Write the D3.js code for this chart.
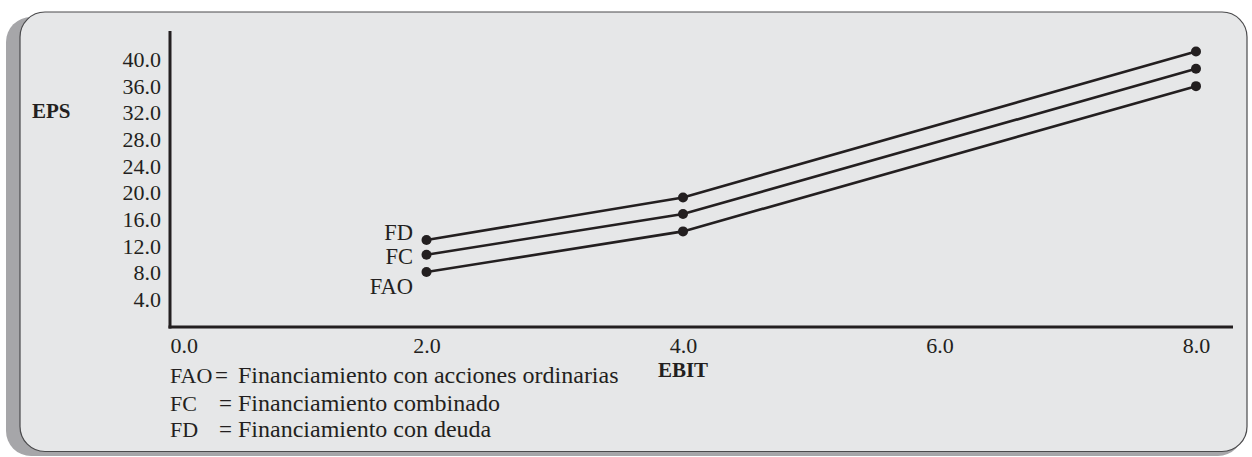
<!DOCTYPE html>
<html><head><meta charset="utf-8">
<script src="https://cdn.jsdelivr.net/npm/d3@7"></script>
<style>
html,body{margin:0;padding:0;background:#fff;}
svg{display:block;}
text{font-family:"Liberation Serif","DejaVu Serif",serif;fill:#231f20;}
</style></head>
<body>
<svg id="chart" width="1252" height="457"></svg>
<script>
// Data
const ebit = [2.0, 4.0, 8.0];
const seriesNames = ["FD", "FC", "FAO"];
const fdValues = [12.9, 19.3, 41.2];
const fcValues = [10.7, 16.8, 38.6];
const faoValues = [8.1, 14.2, 36.0];
const yTicks = [4, 8, 12, 16, 20, 24, 28, 32, 36, 40];
const xTicks = [0, 2, 4, 6, 8];
const legendAbbr = ["FAO", "FC", "FD"];
const legendText = ["Financiamiento con acciones ordinarias", "Financiamiento combinado", "Financiamiento con deuda"];

const series = [
  {name: seriesNames[0], values: fdValues},
  {name: seriesNames[1], values: fcValues},
  {name: seriesNames[2], values: faoValues}
];

const svg = d3.select("#chart");
const ink = "#231f20";

// Panel shadow and panel
svg.append("rect").attr("x", 6).attr("y", 17).attr("width", 1237).attr("height", 439)
  .attr("rx", 25).attr("ry", 25).attr("fill", "#a6a6a9");
svg.append("rect").attr("x", 20).attr("y", 12).attr("width", 1227).attr("height", 439.5)
  .attr("rx", 25).attr("ry", 25).attr("fill", "#e6e7e8").attr("stroke", "#4a4a4c").attr("stroke-width", 1.2);

const x = d3.scaleLinear().domain([0, 8]).range([170, 1196]);
const y = d3.scaleLinear().domain([0, 40]).range([326, 59.5]);

// Y axis labels
const yAxis = d3.axisLeft(y).tickValues(yTicks).tickSize(0).tickPadding(9).tickFormat(d3.format(".1f"));
const gy = svg.append("g").attr("transform", `translate(170,0)`).call(yAxis);
gy.select(".domain").remove();
gy.selectAll("text").attr("font-size", 22).attr("font-family", "Liberation Serif").attr("fill", ink);

// X axis labels
const xAxis = d3.axisBottom(x).tickValues(xTicks).tickSize(0).tickPadding(10).tickFormat(d3.format(".1f"));
const gx = svg.append("g").attr("transform", `translate(0,327)`).call(xAxis);
gx.select(".domain").remove();
gx.selectAll("text").attr("font-size", 22).attr("font-family", "Liberation Serif").attr("fill", ink);
gx.selectAll(".tick").filter(d => d === 0).select("text").attr("text-anchor", "start");

// Axis lines
svg.append("line").attr("x1", 170).attr("x2", 170).attr("y1", 31).attr("y2", 328.5)
  .attr("stroke", ink).attr("stroke-width", 3);
svg.append("line").attr("x1", 168.5).attr("x2", 1233).attr("y1", 327).attr("y2", 327)
  .attr("stroke", ink).attr("stroke-width", 3);

// Axis titles
svg.append("text").attr("x", 32).attr("y", 118).attr("font-size", 21).attr("font-weight", "bold").text("EPS");
svg.append("text").attr("x", x(4)).attr("y", 377).attr("text-anchor", "middle")
  .attr("font-size", 21).attr("font-weight", "bold").text("EBIT");

// Lines and points
const line = d3.line().x((d, i) => x(ebit[i])).y(d => y(d));
series.forEach(s => {
  svg.append("path").attr("d", line(s.values)).attr("fill", "none")
    .attr("stroke", ink).attr("stroke-width", 2.6);
  svg.selectAll(null).data(s.values).enter().append("circle")
    .attr("cx", (d, i) => x(ebit[i])).attr("cy", d => y(d)).attr("r", 5).attr("fill", ink);
});

// Series labels
const labelY = [240, 264, 294];
series.forEach((s, i) => {
  svg.append("text").attr("x", 413).attr("y", labelY[i]).attr("text-anchor", "end")
    .attr("font-size", 22.5).text(s.name);
});

// Legend
const legY = [383, 411, 437];
const eqX = [215, 219, 219];
legendAbbr.forEach((a, i) => {
  svg.append("text").attr("x", 170).attr("y", legY[i]).attr("font-size", 22).text(a);
  svg.append("text").attr("x", eqX[i]).attr("y", legY[i]).attr("font-size", 23).text("=");
  svg.append("text").attr("x", 238).attr("y", legY[i]).attr("font-size", 24).text(legendText[i]);
});
</script>
</body></html>
